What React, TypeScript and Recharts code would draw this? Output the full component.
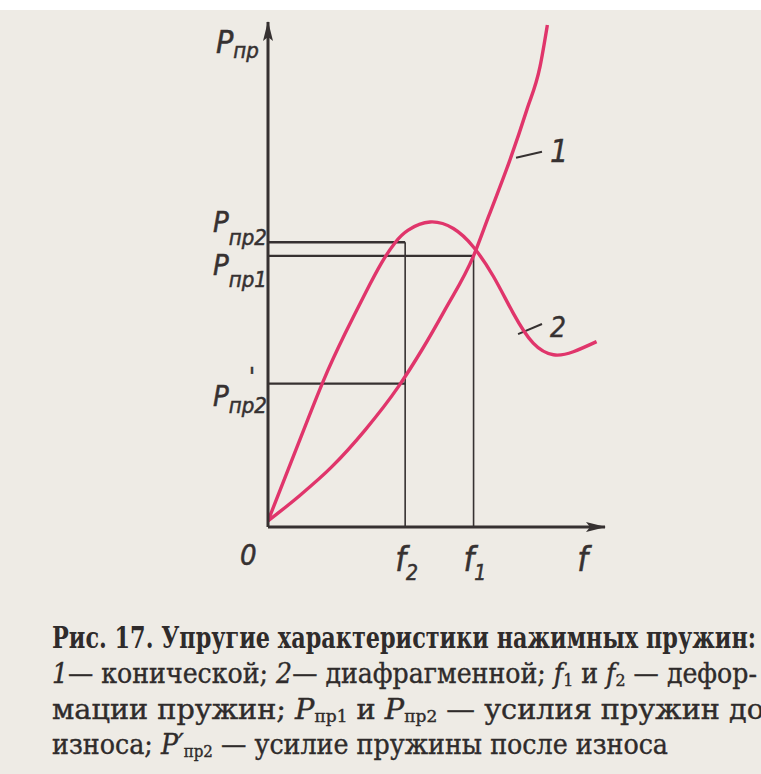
import React from 'react';
import { ComposedChart, Line, XAxis, YAxis, ReferenceLine, ReferenceDot } from 'recharts';

// spring force P against deformation f (arbitrary units, 0..10)
const curve1F = [0, 0.9, 1.89, 2.88, 3.87, 4.56, 5.25, 6.1, 6.54, 7.18, 7.68, 8.07, 8.29];
const curve1P = [0.12, 0.6, 1.19, 1.92, 2.78, 3.5, 4.3, 5.37, 6.14, 7.27, 8.26, 9.11, 9.94];
const curve2F = [0, 0.9, 1.64, 2.28, 2.88, 3.37, 3.77, 4.16, 4.81, 5.5, 6.09, 6.69, 7.28, 7.87, 8.47, 9.06, 9.75];
const curve2P = [0.12, 1.65, 2.89, 3.82, 4.62, 5.23, 5.63, 5.88, 6.04, 5.91, 5.55, 4.96, 4.23, 3.64, 3.41, 3.47, 3.67];

const f2 = 4.07;
const f1 = 6.1;
const pPr2 = 5.64;
const pPr1 = 5.37;
const pPr2Worn = 2.84;

const fTicks = [0, f2, f1, 9.47];
const fTickMain = ['0', 'f', 'f', 'f'];
const fTickSub = ['', '2', '1', ''];

const pTicks = [pPr2Worn, pPr1, pPr2, 9.55];
const pTickSub = ['пр2', 'пр1', 'пр2', 'пр'];

const curveNames = ['1', '2'];
const curveNameAt = [
  { f: 8.37, p: 7.23 },
  { f: 8.37, p: 3.76 },
];
const leaders = [
  [{ x: 7.36, y: 7.31 }, { x: 8.13, y: 7.43 }],
  [{ x: 7.42, y: 3.82 }, { x: 8.13, y: 4.02 }],
];

const curve1 = curve1F.map((f, i) => ({ f, p: curve1P[i] }));
const curve2 = curve2F.map((f, i) => ({ f, p: curve2P[i] }));

const INK = '#363131';
const PINK = '#e0356b';
const PAPER = '#eeebe5';
const LABEL_FONT = "'Liberation Sans Narrow','DejaVu Sans Condensed',sans-serif";
const CAPTION_FONT = "'DejaVu Serif Condensed','Liberation Serif',serif";

const MARGIN = { top: 22, right: 156, bottom: 33, left: 208 };
const AXIS_Y = 527;

const FTick = (props: any) => {
  const i = fTicks.indexOf(props.payload.value);
  if (i < 0) return null;
  const dx = i === 0 ? -28 : -10;
  return (
    <text x={props.x + dx} y={AXIS_Y} fill={INK} stroke={INK} strokeWidth={0.5} fontFamily={LABEL_FONT} fontStyle="italic">
      <tspan fontSize={i === 0 ? 29 : 34} dy={i === 0 ? 38 : 44}>{fTickMain[i]}</tspan>
      {fTickSub[i] && (
        <tspan fontSize={21} dy={9}>{fTickSub[i]}</tspan>
      )}
    </text>
  );
};

const PTick = (props: any) => {
  const i = pTicks.indexOf(props.payload.value);
  if (i < 0) return null;
  const pDy = [22, 19, -10, 8][i];
  const subDy = [7, 12, 13, 5][i];
  const x0 = i === 3 ? 216 : 213;
  return (
    <g>
      <text x={x0} y={props.y} fill={INK} stroke={INK} strokeWidth={0.5} fontFamily={LABEL_FONT} fontStyle="italic">
        <tspan fontSize={i === 3 ? 32 : 29} dy={pDy}>P</tspan>
        <tspan fontSize={22} dy={subDy}>{pTickSub[i]}</tspan>
      </text>
      {i === 0 && (
        <text x={249} y={props.y + 1} fill={INK} stroke={INK} strokeWidth={0.5} fontFamily={LABEL_FONT} fontSize={24}>'</text>
      )}
    </g>
  );
};

const ArrowRight = (p: any) => (
  <path d={`M${p.cx + 1},${p.cy} L${p.cx - 19},${p.cy - 5} L${p.cx - 15},${p.cy} L${p.cx - 19},${p.cy + 5} Z`} fill={INK} />
);
const ArrowUp = (p: any) => (
  <path d={`M${p.cx},${p.cy - 1} L${p.cx - 5},${p.cy + 19} L${p.cx},${p.cy + 15} L${p.cx + 5},${p.cy + 19} Z`} fill={INK} />
);

const Caption = () => (
  <svg width={761} height={774} style={{ position: 'absolute', left: 0, top: 0, pointerEvents: 'none' }}>
    <g fill="#2f2b2b" fontFamily={CAPTION_FONT} style={{ whiteSpace: 'pre' }}>
      <text x={52} y={648} fontSize={29} fontWeight="bold" textLength={704} lengthAdjust="spacingAndGlyphs">
        Рис. 17. Упругие характеристики нажимных пружин:
      </text>
      <g stroke="#2f2b2b" strokeWidth={0.35}>
        <text x={52} y={683} fontSize={27} textLength={705} lengthAdjust="spacingAndGlyphs">
          <tspan fontStyle="italic">1</tspan>
          <tspan>— конической; </tspan>
          <tspan fontStyle="italic">2</tspan>
          <tspan>— диафрагменной; </tspan>
          <tspan fontStyle="italic">f</tspan>
          <tspan fontSize={17} dy={3}>1</tspan>
          <tspan dy={-3}> и </tspan>
          <tspan fontStyle="italic">f</tspan>
          <tspan fontSize={17} dy={3}>2</tspan>
          <tspan dy={-3}> — дефор-</tspan>
        </text>
        <text x={52} y={719} fontSize={27} textLength={712} lengthAdjust="spacingAndGlyphs">
          <tspan>мации  пружин;  </tspan>
          <tspan fontStyle="italic">P</tspan>
          <tspan fontSize={16} dy={3}>пр1</tspan>
          <tspan dy={-3}>  и  </tspan>
          <tspan fontStyle="italic">P</tspan>
          <tspan fontSize={16} dy={3}>пр2</tspan>
          <tspan dy={-3}> — усилия  пружин  до</tspan>
        </text>
        <text x={52} y={754} fontSize={27} textLength={616} lengthAdjust="spacingAndGlyphs">
          <tspan>износа; </tspan>
          <tspan fontStyle="italic">P′</tspan>
          <tspan fontSize={16} dy={3}>пр2</tspan>
          <tspan dy={-3}> — усилие пружины после износа</tspan>
        </text>
      </g>
    </g>
  </svg>
);

export default function App() {
  return (
    <div
      style={{
        position: 'absolute',
        left: 0,
        top: 0,
        width: 761,
        height: 774,
        background: `linear-gradient(#ffffff 0 10px, ${PAPER} 10px)`,
        overflow: 'hidden',
      }}
    >
      <ComposedChart width={761} height={620} margin={MARGIN}>
        <XAxis
          type="number"
          dataKey="f"
          domain={[0, 10]}
          allowDataOverflow
          ticks={fTicks}
          interval={0}
          tick={FTick}
          tickLine={false}
          tickSize={0}
          tickMargin={0}
          height={60}
          axisLine={{ stroke: INK, strokeWidth: 3 }}
        />
        <YAxis
          type="number"
          dataKey="p"
          domain={[0, 10]}
          allowDataOverflow
          ticks={pTicks}
          interval={0}
          tick={PTick}
          tickLine={false}
          tickSize={0}
          tickMargin={0}
          width={60}
          axisLine={{ stroke: INK, strokeWidth: 3 }}
        />
        <ReferenceLine segment={[{ x: 0, y: pPr2 }, { x: f2, y: pPr2 }]} stroke={INK} strokeWidth={2.5} />
        <ReferenceLine segment={[{ x: f2, y: 0 }, { x: f2, y: pPr2 }]} stroke={INK} strokeWidth={1.6} />
        <ReferenceLine segment={[{ x: 0, y: pPr1 }, { x: f1, y: pPr1 }]} stroke={INK} strokeWidth={2.2} />
        <ReferenceLine segment={[{ x: f1, y: 0 }, { x: f1, y: pPr1 }]} stroke={INK} strokeWidth={1.6} />
        <ReferenceLine segment={[{ x: 0, y: pPr2Worn }, { x: f2, y: pPr2Worn }]} stroke={INK} strokeWidth={2.2} />
        {leaders.map((seg, i) => (
          <ReferenceLine key={`l${i}`} segment={seg} stroke={INK} strokeWidth={2} />
        ))}
        <Line data={curve1} dataKey="p" type="monotone" stroke={PINK} strokeWidth={3.4} dot={false} isAnimationActive={false} />
        <Line data={curve2} dataKey="p" type="natural" stroke={PINK} strokeWidth={3.4} dot={false} isAnimationActive={false} />
        {curveNames.map((name, i) => (
          <ReferenceDot
            key={`n${i}`}
            x={curveNameAt[i].f}
            y={curveNameAt[i].p}
            r={0}
            ifOverflow="visible"
            shape={(p: any) => (
              <text x={p.cx} y={p.cy} fill={INK} stroke={INK} strokeWidth={0.4} fontFamily={LABEL_FONT} fontStyle="italic" fontSize={i === 0 ? 32 : 28}>
                {name}
              </text>
            )}
          />
        ))}
        <ReferenceDot x={10} y={0} r={0} ifOverflow="visible" shape={ArrowRight} />
        <ReferenceDot x={0} y={10} r={0} ifOverflow="visible" shape={ArrowUp} />
      </ComposedChart>
      <Caption />
    </div>
  );
}
